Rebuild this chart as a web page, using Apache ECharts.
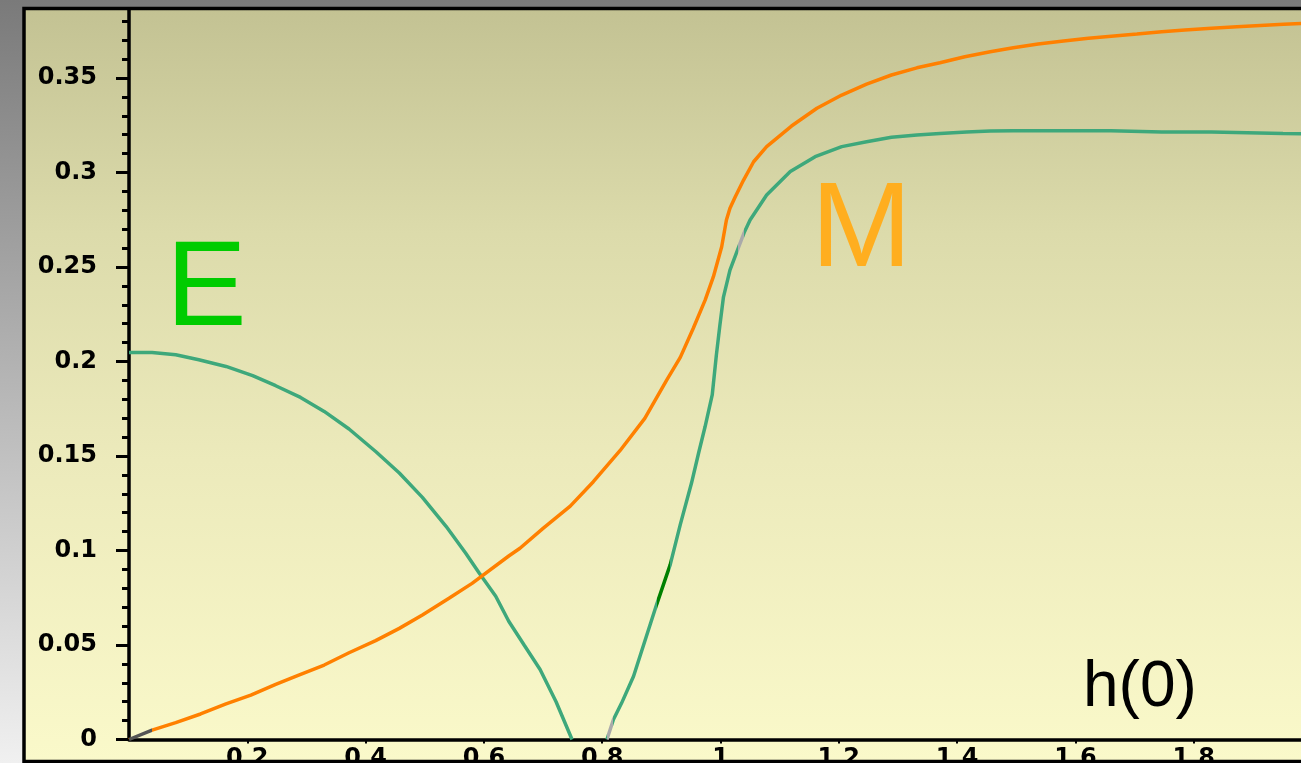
<!DOCTYPE html>
<html>
<head>
<meta charset="utf-8">
<script src="https://cdn.jsdelivr.net/npm/echarts@6/dist/echarts.min.js"></script>
<style>
  html, body { margin: 0; padding: 0; overflow: hidden; background: #888; }
  #chart { width: 1301px; height: 763px; }
</style>
</head>
<body>
<div id="chart"></div>
<script>
// Magnetisation M as a function of h(0)
const mH = [0, 0.039, 0.079, 0.121, 0.164, 0.206, 0.248, 0.287, 0.330, 0.372, 0.417, 0.457, 0.496, 0.541, 0.580,
  0.642, 0.661, 0.700, 0.746, 0.785, 0.830, 0.872, 0.909, 0.932, 0.954, 0.974, 0.988, 1.002, 1.010, 1.016, 1.025,
  1.039, 1.056, 1.078, 1.120, 1.163, 1.205, 1.247, 1.289, 1.332, 1.371, 1.413, 1.456, 1.495, 1.537, 1.580, 1.622,
  1.704, 1.746, 1.785, 1.830, 1.873, 1.952, 2.0];
const mVal = [0, 0.0050, 0.0089, 0.0135, 0.0188, 0.0235, 0.0292, 0.0341, 0.0394, 0.0459, 0.0523, 0.0588, 0.0659, 0.0747, 0.0826,
  0.0971, 0.1012, 0.1117, 0.1235, 0.1364, 0.1528, 0.1699, 0.1902, 0.2022, 0.2176, 0.2325, 0.2449, 0.2607, 0.2749, 0.2811, 0.2872,
  0.2960, 0.3057, 0.3137, 0.3246, 0.3340, 0.3410, 0.3468, 0.3516, 0.3554, 0.3581, 0.3613, 0.3639, 0.3660, 0.3680, 0.3696, 0.3710,
  0.3733, 0.3745, 0.3754, 0.3763, 0.3771, 0.3784, 0.3791];

// Energy gap E: first branch closes near h = 0.75
const eH1 = [0, 0.039, 0.079, 0.118, 0.164, 0.209, 0.248, 0.290, 0.330, 0.372, 0.417, 0.457, 0.496, 0.536, 0.569,
  0.592, 0.620, 0.642, 0.668, 0.695, 0.722, 0.749];
const eVal1 = [0.2048, 0.2048, 0.2036, 0.2009, 0.1974, 0.1925, 0.1872, 0.1810, 0.1736, 0.1643, 0.1524, 0.1410, 0.1281, 0.1128, 0.0987,
  0.0881, 0.0758, 0.0626, 0.0500, 0.0370, 0.0200, 0];

// Energy gap E: second branch reopens near h = 0.81
const eH2 = [0.808, 0.819, 0.833, 0.853, 0.872, 0.892, 0.915, 0.932, 0.951, 0.963, 0.974, 0.986, 0.993, 0.999, 1.005,
  1.016, 1.030, 1.040, 1.050, 1.078, 1.118, 1.160, 1.205, 1.247, 1.289, 1.332, 1.371, 1.416, 1.456, 1.495,
  1.580, 1.660, 1.746, 1.830, 1.951, 2.0];
const eVal2 = [0, 0.0106, 0.0194, 0.0335, 0.0520, 0.0714, 0.0925, 0.1137, 0.1357, 0.1516, 0.1656, 0.1823, 0.2034, 0.2193, 0.2341,
  0.2484, 0.2600, 0.2682, 0.2749, 0.2881, 0.3005, 0.3084, 0.3137, 0.3163, 0.3187, 0.3199, 0.3207, 0.3215, 0.3220, 0.3221,
  0.3221, 0.3221, 0.3215, 0.3215, 0.3207, 0.3205];

// Axis ticks
const yTicks = [0, 0.05, 0.1, 0.15, 0.2, 0.25, 0.3, 0.35];
const yMinorTicks = [0.01, 0.02, 0.03, 0.04, 0.06, 0.07, 0.08, 0.09, 0.11, 0.12, 0.13, 0.14, 0.16, 0.17, 0.18, 0.19,
  0.21, 0.22, 0.23, 0.24, 0.26, 0.27, 0.28, 0.29, 0.31, 0.32, 0.33, 0.34, 0.36, 0.37, 0.38];
const xTicks = [0.2, 0.4, 0.6, 0.8, 1, 1.2, 1.4, 1.6, 1.8, 2];

const zip = (xs, ys) => xs.map((x, i) => [x, ys[i]]);

const chart = echarts.init(document.getElementById('chart'), null, { renderer: 'canvas' });

const labelFont = { fontFamily: 'DejaVu Sans', fontWeight: 'bold', fontSize: 24, color: '#000' };

chart.setOption({
  animation: false,
  backgroundColor: {
    type: 'linear', x: 0, y: 0, x2: 0, y2: 1,
    colorStops: [{ offset: 0, color: '#7a7a7a' }, { offset: 1, color: '#f0f0f0' }]
  },
  graphic: [
    {
      type: 'rect', z: -10, silent: true,
      shape: { x: 24, y: 8.5, width: 1300, height: 753 },
      style: {
        fill: {
          type: 'linear', x: 0, y: 0, x2: 0, y2: 1,
          colorStops: [
            { offset: 0, color: '#c3c293' },
            { offset: 0.3, color: '#dcdbab' },
            { offset: 0.6, color: '#eceabb' },
            { offset: 1, color: '#faf9ca' }
          ]
        }
      }
    },
    {
      type: 'rect', z: 100, silent: true,
      shape: { x: 24, y: 8.5, width: 1300, height: 753 },
      style: { fill: null, stroke: '#000', lineWidth: 3.5 }
    },
    {
      type: 'text', z: 50, silent: true, x: 166, y: 231,
      style: { text: 'E', font: '121px "Liberation Sans"', fill: '#00cc00', verticalAlign: 'top' }
    },
    {
      type: 'text', z: 50, silent: true, x: 811, y: 172,
      style: { text: 'M', font: '121px "Liberation Sans"', fill: '#ffae1f', verticalAlign: 'top' }
    },
    {
      type: 'text', z: 50, silent: true, x: 1083, y: 656,
      style: { text: 'h(0)', font: '64px "Liberation Sans"', fill: '#000', verticalAlign: 'top' }
    }
  ],
  grid: {
    left: 129, top: 10, right: -11, bottom: 23.5,
    containLabel: false, outerBoundsMode: 'none'
  },
  xAxis: {
    type: 'value', min: 0, max: 2,
    axisLine: { show: true, onZero: false, lineStyle: { color: '#000', width: 3.5 } },
    axisTick: { show: true, customValues: xTicks, length: 4, lineStyle: { color: '#000', width: 2 } },
    axisLabel: { show: true, customValues: xTicks, margin: 7, ...labelFont },
    splitLine: { show: false }
  },
  yAxis: [
    {
      type: 'value', min: 0, max: 0.386,
      axisLine: { show: true, onZero: false, lineStyle: { color: '#000', width: 3.5 } },
      axisTick: { show: true, customValues: yTicks, length: 13, lineStyle: { color: '#000', width: 3 } },
      axisLabel: { show: true, customValues: yTicks, margin: 32, ...labelFont },
      splitLine: { show: false }
    },
    {
      type: 'value', min: 0, max: 0.386, position: 'left',
      axisLine: { show: false },
      axisTick: { show: true, customValues: yMinorTicks, length: 7, lineStyle: { color: '#000', width: 3 } },
      axisLabel: { show: false },
      splitLine: { show: false }
    }
  ],
  visualMap: [
    {
      type: 'piecewise', show: false, dimension: 0, seriesIndex: 0,
      pieces: [{ gte: 0, lte: 0.039, color: '#555555' }],
      outOfRange: { color: '#ff8000' }
    },
    {
      type: 'piecewise', show: false, dimension: 0, seriesIndex: [1, 2],
      pieces: [
        { gte: 0.808, lte: 0.819, color: '#aaaaaa' },
        { gte: 0.892, lte: 0.915, color: '#008000' },
        { gte: 1.030, lte: 1.040, color: '#aaaaaa' }
      ],
      outOfRange: { color: '#3ea87b' }
    }
  ],
  series: [
    {
      name: 'M', type: 'line', data: zip(mH, mVal),
      showSymbol: false, lineStyle: { width: 3.5 }, z: 3
    },
    {
      name: 'E', type: 'line', data: zip(eH1, eVal1),
      showSymbol: false, lineStyle: { width: 3.5 }, z: 2
    },
    {
      name: 'E', type: 'line', data: zip(eH2, eVal2),
      showSymbol: false, lineStyle: { width: 3.5 }, z: 2
    }
  ]
});
</script>
</body>
</html>
